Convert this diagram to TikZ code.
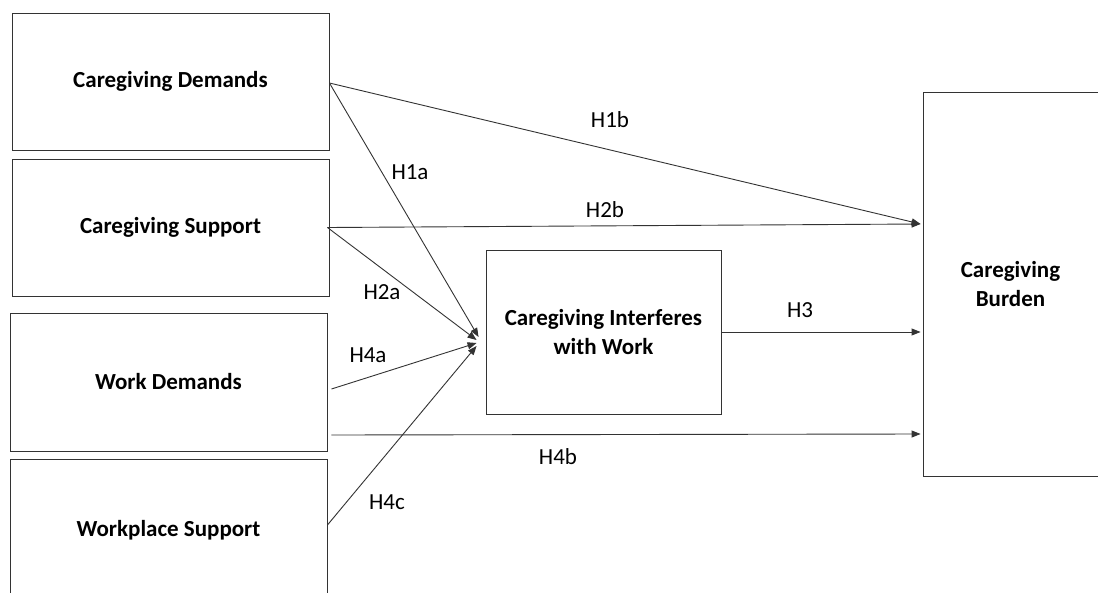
\documentclass[tikz,border=0pt]{standalone}
\usepackage{fontspec}
\setmainfont{Carlito}
\usetikzlibrary{arrows.meta,calc}
\begin{document}
\begin{tikzpicture}[x=1pt,y=-1pt,
  box/.style={draw=black!80,line width=0.9pt,rectangle,inner sep=0pt,
    font=\fontsize{23}{29}\selectfont\bfseries,align=center},
  link/.style={draw=black!80,line width=0.9pt,-{Triangle[length=9pt,width=7pt]}},
  hyp/.style={font=\fontsize{23}{27}\selectfont,inner sep=0pt}]
\useasboundingbox (0,0) rectangle (1098,592);
\clip (0,0) rectangle (1098,592);
\fill[white] (0,0) rectangle (1098,592);
% predictor boxes
\node[box,minimum width=317pt,minimum height=137pt] (cd) at (170.5,81.5) {Caregiving Demands};
\node[box,minimum width=317pt,minimum height=137pt] (cs) at (170.5,227.5) {Caregiving Support};
\node[box,minimum width=317pt,minimum height=138pt] (wd) at (168.5,382) {Work Demands};
\node[box,minimum width=317pt,minimum height=142pt] (ws) at (168.5,530) {Workplace Support};
% mediator and outcome
\node[box,minimum width=235pt,minimum height=164pt] (ciw) at (603.5,332) {Caregiving Interferes\\with Work};
\node[box,minimum width=175pt,minimum height=384pt] (cb) at (1010.5,284) {Caregiving\\Burden};
% attachment points
\coordinate (hub) at ($(ciw.west)+(-7,9)$);
\coordinate (cbtop) at ($(cb.west)+(-2,-60)$);
% direct paths to burden
\draw[link] ($(cd.east)+(0,1.5)$) -- (cbtop);
\draw[link] ($(cs.east)+(-2,0)$) -- (cbtop);
\draw[link] (ciw.east) -- ($(cb.west |- ciw.east)+(-2,0)$);
\draw[link] ($(wd.east)+(4,53)$) -- ($(cb.west)+(-2,150)$);
% paths to the mediator
\draw[link] ($(cd.east)+(0,1.5)$) -- ($(hub)+(0,-4)$);
\draw[link] ($(cs.east)+(-2,0)$) -- ($(hub)+(-2,-1)$);
\draw[link] ($(wd.east)+(4,7)$) -- ($(hub)+(-2,2)$);
\draw[link] ($(ws.east)+(0,-5)$) -- ($(hub)+(-2,5)$);
% hypothesis labels
\node[hyp] (l1b) at (610,120) {H1b};
\node[hyp] (l1a) at (410,172) {H1a};
\node[hyp] (l2b) at (605,210) {H2b};
\node[hyp] (l2a) at (382,292) {H2a};
\node[hyp] (l4a) at (368,355) {H4a};
\node[hyp] (l3) at (800,310) {H3};
\node[hyp] (l4b) at (558,457) {H4b};
\node[hyp] (l4c) at (387,502) {H4c};
\end{tikzpicture}
\end{document}
